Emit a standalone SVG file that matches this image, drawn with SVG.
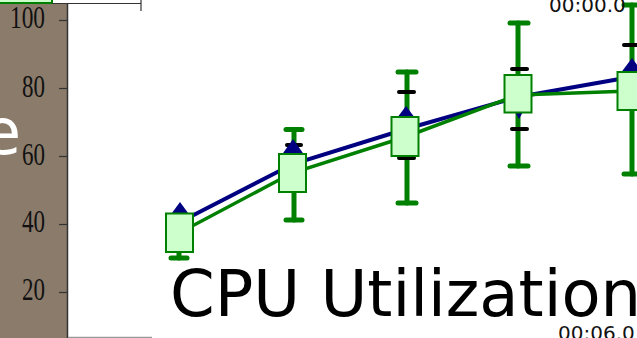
<svg xmlns="http://www.w3.org/2000/svg" width="637" height="338" viewBox="0 0 637 338">
<style>
.tick{stroke:#333;stroke-width:1.2}
.lbl{font-family:"Liberation Serif",serif;font-size:31px;fill:#111;text-anchor:end}
.big{font-family:"DejaVu Sans",sans-serif;font-size:64px}
.time{font-family:"DejaVu Sans",sans-serif;font-size:20px;fill:#111}
.gbar{stroke:#008000;stroke-width:5;stroke-linecap:round;fill:none}
.kbar{stroke:#000;stroke-width:4;stroke-linecap:round}
.sq{fill:#ccffcc;stroke:#008000;stroke-width:2}
.tri{fill:#000080}
</style>
<rect x="0" y="0" width="637" height="338" fill="#fff"/>
<g id="left-panel">
<rect x="0" y="3" width="67.5" height="335" fill="#8b7b6b"/>
<rect x="-2" y="-20" width="54" height="23" fill="#ccffcc" stroke="#008000" stroke-width="2"/>
<line x1="52" y1="3.5" x2="141" y2="3.5" stroke="#333" stroke-width="1.2"/>
<line x1="141" y1="0" x2="141" y2="11" stroke="#333" stroke-width="1.2"/>
<line x1="67.5" y1="3" x2="67.5" y2="338" stroke="#333" stroke-width="1.5"/>
<line x1="68" y1="337.5" x2="152" y2="337.5" stroke="#999" stroke-width="1.5"/>
<line class="tick" x1="59" y1="20.5" x2="67" y2="20.5"/>
<line class="tick" x1="59" y1="88.5" x2="67" y2="88.5"/>
<line class="tick" x1="59" y1="156.5" x2="67" y2="156.5"/>
<line class="tick" x1="59" y1="224.5" x2="67" y2="224.5"/>
<line class="tick" x1="59" y1="292.5" x2="67" y2="292.5"/>
<text class="lbl" x="45" y="28" textLength="35" lengthAdjust="spacingAndGlyphs">100</text>
<text class="lbl" x="45" y="97" textLength="23" lengthAdjust="spacingAndGlyphs">80</text>
<text class="lbl" x="45" y="165" textLength="23" lengthAdjust="spacingAndGlyphs">60</text>
<text class="lbl" x="45" y="232" textLength="23" lengthAdjust="spacingAndGlyphs">40</text>
<text class="lbl" x="45" y="300" textLength="23" lengthAdjust="spacingAndGlyphs">20</text>
<text class="big" x="21" y="154" fill="#fff" text-anchor="end">e</text>
</g>
<g id="connectors">
<polyline points="180,222 293,164 406,129 518,97 631,77" fill="none" stroke="#000080" stroke-width="4"/>
<polyline points="179,233 292,173 405,137 518,95 631,91" fill="none" stroke="#008000" stroke-width="3.5"/>
</g>
<g id="errorbars">
<line class="gbar" x1="179" y1="240" x2="179" y2="258"/><line class="gbar" x1="171" y1="258" x2="187" y2="258"/>
<line class="gbar" x1="294" y1="129.5" x2="294" y2="220"/><line class="gbar" x1="286" y1="129.5" x2="302" y2="129.5"/><line class="gbar" x1="286" y1="220" x2="302" y2="220"/>
<line class="kbar" x1="287" y1="145" x2="301" y2="145"/>
<line class="gbar" x1="407" y1="72" x2="407" y2="203"/><line class="gbar" x1="398" y1="72" x2="416" y2="72"/><line class="gbar" x1="398" y1="203" x2="416" y2="203"/>
<line class="kbar" x1="399" y1="92" x2="414" y2="92"/><line class="kbar" x1="399" y1="158" x2="414" y2="158"/>
<line class="gbar" x1="518" y1="23" x2="518" y2="166"/><line class="gbar" x1="510" y1="23" x2="528" y2="23"/><line class="gbar" x1="510" y1="166" x2="528" y2="166"/>
<line class="kbar" x1="512" y1="69" x2="527" y2="69"/><line class="kbar" x1="512" y1="129" x2="527" y2="129"/>
<line class="gbar" x1="632" y1="5" x2="632" y2="174"/><line class="gbar" x1="624" y1="5" x2="640" y2="5"/><line class="gbar" x1="624" y1="174" x2="640" y2="174"/>
<line class="kbar" x1="624" y1="45" x2="638" y2="45"/>
</g>
<g id="p1"><polygon class="tri" points="180,202 169,217 191,217"/><rect class="sq" x="166" y="213.5" width="27" height="38.5"/></g>
<g id="p2"><polygon class="tri" points="293,139 281,156 305,156"/><rect class="sq" x="279" y="154" width="27" height="38"/></g>
<g id="p3"><polygon class="tri" points="406,106 394,122 418,122"/><rect class="sq" x="391.5" y="117" width="27" height="39"/></g>
<g id="p4"><polygon class="tri" points="514,110 524,110 519,119"/><rect class="sq" x="504.5" y="75" width="27" height="37.5"/></g>
<g id="p5"><polygon class="tri" points="632,58 620,74 644,74"/><rect class="sq" x="617.5" y="72" width="27" height="38"/></g>
<g id="labels">
<text class="big" x="170" y="316" fill="#000">CPU Utilization</text>
<text class="time" x="549" y="12">00:00.0</text>
<text class="time" x="558" y="340">00:06.0</text>
</g>
</svg>
